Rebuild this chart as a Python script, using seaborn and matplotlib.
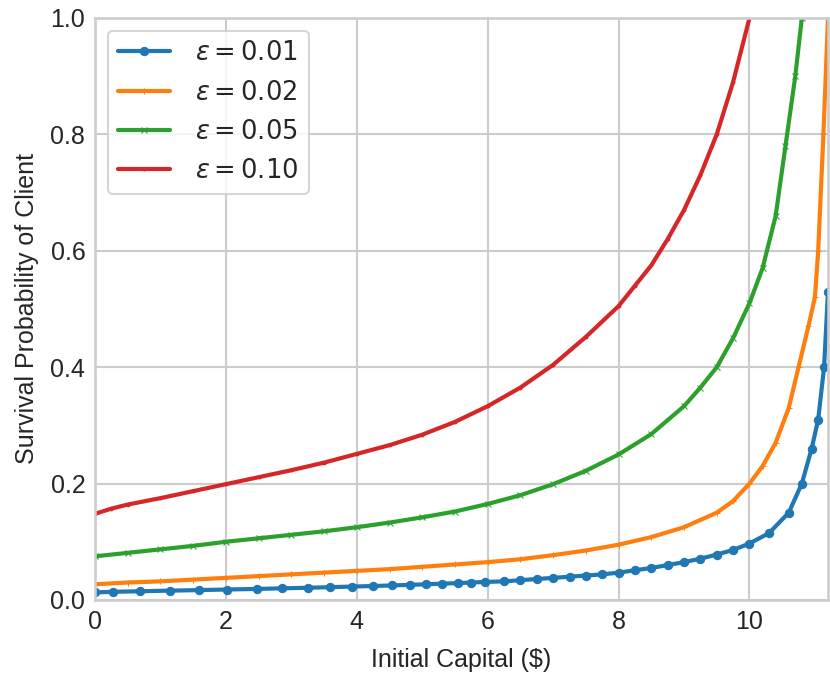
import matplotlib
matplotlib.use("Agg")
import matplotlib.pyplot as plt
import seaborn as sns
import pandas as pd

sns.set_theme(style="whitegrid", context="talk")
plt.rcParams["font.family"] = ["Liberation Sans", "DejaVu Sans"]

# values
eps_labels = [r"$\varepsilon = 0.01$", r"$\varepsilon = 0.02$",
              r"$\varepsilon = 0.05$", r"$\varepsilon = 0.10$"]
colors = ["#1f77b4", "#ff7f0e", "#2ca02c", "#d62728"]
markers = ["o", "+", "x", "."]
marker_sizes = [6, 5, 5, 4]

x_001 = [0, 0.27, 0.68, 1.14, 1.59, 2.02, 2.47, 2.85, 3.25, 3.59, 3.92, 4.25,
         4.54, 4.81, 5.06, 5.3, 5.54, 5.75, 5.96, 6.25, 6.5, 6.75, 7, 7.25,
         7.5, 7.75, 8, 8.25, 8.5, 8.75, 9, 9.25, 9.5, 9.75, 10, 10.3, 10.6,
         10.8, 10.95, 11.05, 11.14, 11.2]
y_001 = [0.013, 0.014, 0.015, 0.016, 0.017, 0.018, 0.019, 0.020, 0.021, 0.022,
         0.023, 0.024, 0.025, 0.026, 0.027, 0.028, 0.029, 0.030, 0.031, 0.032,
         0.034, 0.036, 0.038, 0.040, 0.042, 0.044, 0.047, 0.051, 0.055, 0.060,
         0.065, 0.071, 0.078, 0.086, 0.097, 0.115, 0.150, 0.200, 0.260, 0.310,
         0.400, 0.530]

x_002 = [0, 0.5, 1, 1.5, 2, 2.5, 3, 3.5, 4, 4.5, 5, 5.5, 6, 6.5, 7, 7.5, 8,
         8.5, 9, 9.5, 9.75, 10, 10.2, 10.4, 10.6, 10.75, 10.9, 11.0, 11.05,
         11.13, 11.2]
y_002 = [0.027, 0.030, 0.032, 0.035, 0.038, 0.041, 0.044, 0.047, 0.050, 0.053,
         0.057, 0.061, 0.065, 0.070, 0.077, 0.085, 0.095, 0.108, 0.125, 0.150,
         0.170, 0.200, 0.230, 0.270, 0.330, 0.400, 0.470, 0.520, 0.600, 0.800,
         1.000]

x_005 = [0, 0.5, 1, 1.5, 2, 2.5, 3, 3.5, 4, 4.5, 5, 5.5, 6, 6.5, 7, 7.5, 8,
         8.5, 9, 9.25, 9.5, 9.75, 10, 10.2, 10.4, 10.55, 10.7, 10.8]
y_005 = [0.075, 0.081, 0.087, 0.093, 0.100, 0.106, 0.112, 0.118, 0.125, 0.133,
         0.142, 0.152, 0.165, 0.180, 0.199, 0.222, 0.250, 0.285, 0.333, 0.365,
         0.400, 0.450, 0.510, 0.570, 0.660, 0.780, 0.900, 1.000]

x_010 = [0, 0.25, 0.5, 1, 1.5, 2, 2.5, 3, 3.5, 4, 4.5, 5, 5.5, 6, 6.5, 7, 7.5,
         8, 8.25, 8.5, 8.75, 9, 9.25, 9.5, 9.75, 10.0]
y_010 = [0.148, 0.157, 0.164, 0.175, 0.187, 0.199, 0.211, 0.223, 0.236, 0.251,
         0.266, 0.284, 0.306, 0.333, 0.365, 0.404, 0.452, 0.505, 0.540, 0.575,
         0.620, 0.670, 0.730, 0.800, 0.890, 1.000]

series = [(x_001, y_001), (x_002, y_002), (x_005, y_005), (x_010, y_010)]

fig = plt.figure(figsize=(8.3, 6.73), dpi=100)
ax = fig.add_axes([0.1145, 0.1085, 0.8831, 0.8648])

for (xs, ys), lab, col, mk, ms in zip(series, eps_labels, colors, markers, marker_sizes):
    df = pd.DataFrame({"capital": xs, "prob": ys})
    sns.lineplot(data=df, x="capital", y="prob", ax=ax, color=col, label=lab,
                 marker=mk, markersize=ms, markeredgecolor=col, linewidth=3)

ax.set_xlim(0, 11.2)
ax.set_ylim(0, 1.0)
ax.set_xticks([0, 2, 4, 6, 8, 10])
ax.set_yticks([0.0, 0.2, 0.4, 0.6, 0.8, 1.0])
ax.set_yticklabels(["0.0", "0.2", "0.4", "0.6", "0.8", "1.0"])
ax.set_xlabel("Initial Capital ($)", fontsize=18, labelpad=10)
ax.set_ylabel("Survival Probability of Client", fontsize=18, labelpad=8)
ax.tick_params(labelsize=18, colors=".15", length=0, pad=7)
ax.legend(loc="upper left", fontsize=18.5, frameon=True, framealpha=0.8,
          edgecolor=".8", handlelength=2.0, handletextpad=1.0,
          labelspacing=0.6, borderaxespad=0.5, borderpad=0.4)

fig.savefig("out.png", dpi=100)
